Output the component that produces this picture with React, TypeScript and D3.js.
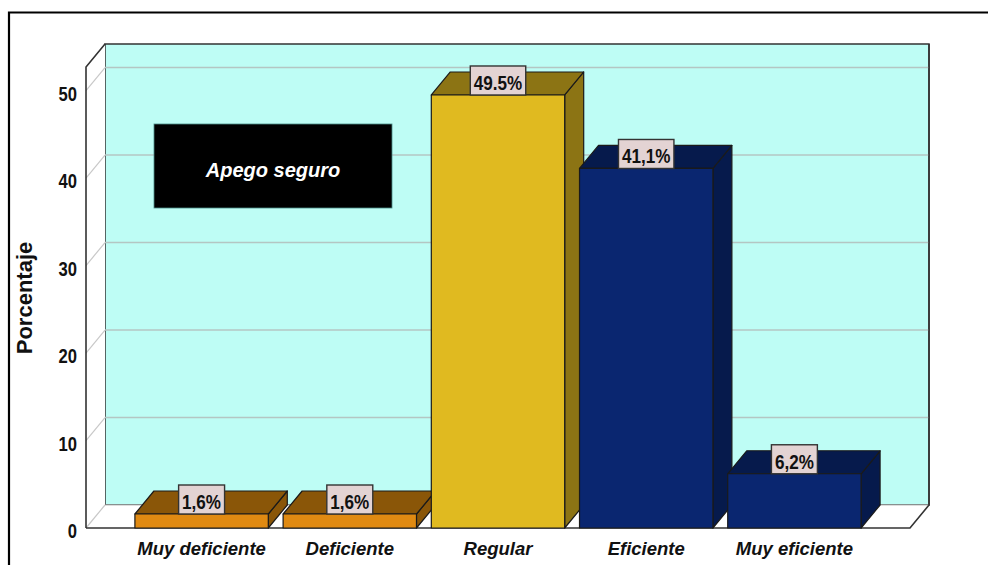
import React, { useEffect, useRef } from "react";
import * as d3 from "d3";

const categories = ["Muy deficiente", "Deficiente", "Regular", "Eficiente", "Muy eficiente"];
const values = [1.6, 1.6, 49.5, 41.1, 6.2];
const valueLabels = ["1,6%", "1,6%", "49.5%", "41,1%", "6,2%"];
const colorGroups = ["orange", "orange", "yellow", "blue", "blue"];
const yTicks = [0, 10, 20, 30, 40, 50];
const yTitle = "Porcentaje";
const chartTitle = "Apego seguro";

const palette: Record<string, { front: string; top: string; side: string }> = {
  orange: { front: "#E08A12", top: "#8A5608", side: "#8A5608" },
  yellow: { front: "#E0BA20", top: "#8C7414", side: "#8C7414" },
  blue: { front: "#0A2670", top: "#061A4C", side: "#061A4C" },
};

export default function App() {
  const ref = useRef<SVGSVGElement>(null);

  useEffect(() => {
    const svg = d3.select(ref.current);
    svg.selectAll("*").remove();

    const DX = 19;
    const DY = 23;
    const x = d3.scaleBand<string>().domain(categories).range([86, 910]).paddingInner(0.1).paddingOuter(0.33);
    const y = d3.scaleLinear().domain([0, 52.7]).range([528, 67]);
    const font = "'Liberation Sans', Arial, sans-serif";

    // outer frame
    svg.append("path").attr("d", "M9,565 V12.5 H988").attr("fill", "none").attr("stroke", "#000").attr("stroke-width", 2.2);

    const x0 = 86, x1 = 910, y0 = y(0), yTop = y(52.7);
    // back wall
    svg.append("rect").attr("x", x0 + DX).attr("y", yTop - DY).attr("width", x1 - x0).attr("height", y0 - yTop)
      .attr("fill", "#BEFDF5").attr("stroke", "#333").attr("stroke-width", 1.5);
    // left wall
    svg.append("path").attr("d", `M${x0},${y0} L${x0},${yTop} L${x0 + DX},${yTop - DY} L${x0 + DX},${y0 - DY} Z`)
      .attr("fill", "#fff").attr("stroke", "none");
    // floor
    svg.append("path").attr("d", `M${x0},${y0} L${x0 + DX},${y0 - DY} L${x1 + DX},${y0 - DY} L${x1},${y0} Z`)
      .attr("fill", "#fff").attr("stroke", "none");

    // gridlines
    yTicks.filter((t) => t > 0).forEach((t) => {
      svg.append("line").attr("x1", x0 + DX).attr("x2", x1 + DX).attr("y1", y(t) - DY).attr("y2", y(t) - DY)
        .attr("stroke", "#B4C6C3").attr("stroke-width", 1.5);
    });
    yTicks.forEach((t) => {
      svg.append("line").attr("x1", x0).attr("x2", x0 + DX).attr("y1", y(t)).attr("y2", y(t) - DY)
        .attr("stroke", "#C8C8C8").attr("stroke-width", 1.2);
    });
    svg.append("line").attr("x1", x0 + DX).attr("x2", x1 + DX).attr("y1", y0 - DY).attr("y2", y0 - DY).attr("stroke", "#bbb").attr("stroke-width", 1);
    // left wall edges
    svg.append("path").attr("d", `M${x0},${y0} L${x0},${yTop} L${x0 + DX},${yTop - DY}`).attr("fill", "none").attr("stroke", "#333").attr("stroke-width", 1.6);
    // floor edges
    svg.append("path").attr("d", `M${x0},${y0} L${x1},${y0} L${x1 + DX},${y0 - DY} L${x1 + DX},${yTop - DY}`).attr("fill", "none").attr("stroke", "#333").attr("stroke-width", 1.6);

    // y tick labels
    yTicks.forEach((t) => {
      svg.append("text").attr("transform", `translate(77,${y(t) + 3.5}) scale(0.95,1.12)`).attr("dy", "0.35em").attr("text-anchor", "end")
        .attr("font-family", font).attr("font-weight", "bold").attr("font-size", 17.5).attr("fill", "#111").text(String(t));
    });
    svg.append("text").attr("transform", "translate(32,298) rotate(-90)").attr("text-anchor", "middle")
      .attr("font-family", font).attr("font-weight", "bold").attr("font-size", 22).attr("fill", "#111").text(yTitle);

    // title box
    svg.append("rect").attr("x", 154).attr("y", 124).attr("width", 238).attr("height", 84).attr("fill", "#000").attr("stroke", "#4a8a86").attr("stroke-width", 0.8);
    svg.append("text").attr("x", 273).attr("y", 177).attr("text-anchor", "middle").attr("font-family", font)
      .attr("font-weight", "bold").attr("font-style", "italic").attr("font-size", 20).attr("fill", "#fff").text(chartTitle);

    // bars
    categories.forEach((c, i) => {
      const bx0 = x(c)!;
      const bx1 = bx0 + x.bandwidth();
      const yt = y(values[i]);
      const col = palette[colorGroups[i]];
      const g = svg.append("g").attr("stroke", "#1a1a1a").attr("stroke-width", 1.2).attr("stroke-linejoin", "round");
      g.append("path").attr("d", `M${bx1},${yt} L${bx1 + DX},${yt - DY} L${bx1 + DX},${y0 - DY} L${bx1},${y0} Z`).attr("fill", col.side);
      g.append("path").attr("d", `M${bx0},${yt} L${bx0 + DX},${yt - DY} L${bx1 + DX},${yt - DY} L${bx1},${yt} Z`).attr("fill", col.top);
      g.append("rect").attr("x", bx0).attr("y", yt).attr("width", bx1 - bx0).attr("height", y0 - yt).attr("fill", col.front);
    });

    // value labels
    categories.forEach((c, i) => {
      const cx = x(c)! + x.bandwidth() / 2;
      const yt = y(values[i]);
      const g = svg.append("g");
      const rect = g.append("rect");
      const txt = g.append("text").attr("transform", `translate(${cx},${yt - 5}) scale(0.95,1.15)`).attr("text-anchor", "middle").attr("font-family", font)
        .attr("font-weight", "bold").attr("font-size", 18).attr("fill", "#111").text(valueLabels[i]);
      const w = (txt.node() as SVGTextElement).getComputedTextLength() * 0.95 + 7;
      rect.attr("x", cx - w / 2).attr("y", yt - 29).attr("width", w).attr("height", 29)
        .attr("fill", "#E3D3D3").attr("stroke", "#333").attr("stroke-width", 1.4);
    });

    // category labels
    categories.forEach((c) => {
      svg.append("text").attr("x", x(c)! + x.bandwidth() / 2).attr("y", 555).attr("text-anchor", "middle")
        .attr("font-family", font).attr("font-weight", "bold").attr("font-style", "italic").attr("font-size", 18.5)
        .attr("fill", "#111").text(c);
    });
  }, []);

  return (
    <svg ref={ref} width={988} height={565} style={{ position: "fixed", left: 0, top: 0, background: "#fff" }} />
  );
}
